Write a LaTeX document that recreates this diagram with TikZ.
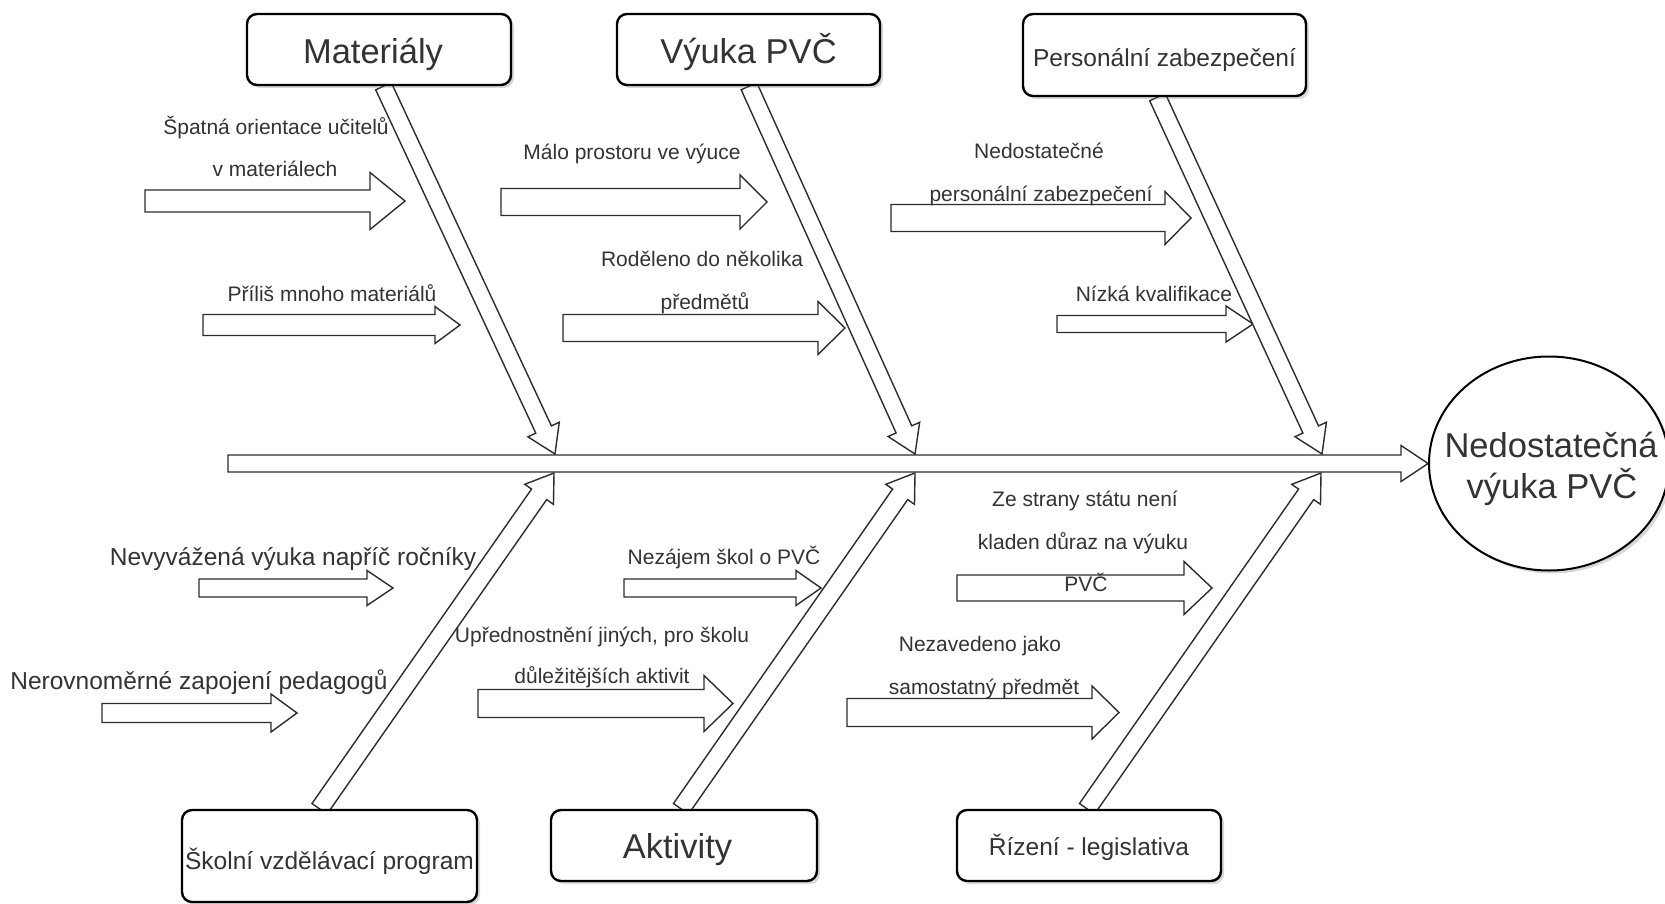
\documentclass[tikz,border=0pt]{standalone}
\usepackage{fontspec}
\setmainfont{Liberation Sans}
\usetikzlibrary{calc,shapes.geometric,shadows,backgrounds}
\definecolor{txt}{RGB}{51,51,51}
\definecolor{ln}{RGB}{45,45,45}
% block arrow from #1 (start) to #2 (tip); #3 shaft half-width, #4 head half-width, #5 head length
\newcommand\blockarrow[5]{%
  \coordinate (bac) at ($(#2)!#5!(#1)$);
  \draw[blk] ($(#1)!#3!90:(#2)$) -- ($(bac)!#3!-90:(#1)$) -- ($(bac)!#4!-90:(#1)$) -- (#2)
     -- ($(bac)!#4!90:(#1)$) -- ($(bac)!#3!90:(#1)$) -- ($(#1)!#3!-90:(#2)$) -- cycle;
}
% small horizontal cause arrow: name, x0, y, tip x, shaft half, head half, head length
\newcommand\causearrow[7]{%
  \coordinate (#1s) at (#2,#3);
  \coordinate (#1t) at (#4,#3);
  \blockarrow{#1s}{#1t}{#5pt}{#6pt}{#7pt}
}
% text lowered so that its baseline lies #1 below the node centre
\newcommand\lowtext[2]{\raisebox{-#1}[0pt][0pt]{#2}}
\begin{document}
\begin{tikzpicture}[x=1pt,y=-1pt,
  blk/.style={draw=ln, line width=1.4pt, fill=white, line join=miter},
  box/.style={draw=black, line width=2.4pt, rounded corners=10pt, fill=white, inner sep=0pt,
    text=txt, drop shadow={shadow xshift=3pt,shadow yshift=-3pt,opacity=0.3}},
  bigfont/.style={font=\fontsize{34.5}{40}\selectfont},
  midfont/.style={font=\fontsize{24.5}{29}\selectfont},
  lbl/.style={text=txt, inner sep=0pt, anchor=base, font=\fontsize{21}{25}\selectfont},
  mlbl/.style={text=txt, inner sep=0pt, anchor=base, font=\fontsize{24.5}{29}\selectfont},
  elab/.style={text=txt, inner sep=0pt, anchor=base, font=\fontsize{34.5}{40}\selectfont}]
\useasboundingbox (0,0) rectangle (1665,904);

% category boxes
\node[box, bigfont, minimum width=264pt, minimum height=71pt] (mat) at (379,49.5) {\lowtext{14.5pt}{\kern-12pt Materiály}};
\node[box, bigfont, minimum width=263pt, minimum height=71pt] (vyu) at (748.5,49.5) {\lowtext{14pt}{Výuka PVČ}};
\node[box, midfont, minimum width=283pt, minimum height=82pt] (per) at (1164.5,55) {\lowtext{12pt}{Personální zabezpečení}};
\node[box, midfont, minimum width=295pt, minimum height=92pt] (svp) at (329.5,856) {\lowtext{13.5pt}{Školní vzdělávací program}};
\node[box, bigfont, minimum width=266pt, minimum height=71pt] (akt) at (684,845.5) {\lowtext{13pt}{\kern-13pt Aktivity}};
\node[box, midfont, minimum width=264pt, minimum height=71pt] (riz) at (1089,845.5) {\lowtext{9.5pt}{Řízení - legislativa}};

% effect ellipse
\node[ellipse, draw=black, line width=2pt, fill=white, minimum width=240pt, minimum height=214pt,
  inner sep=0pt, drop shadow={shadow xshift=3pt,shadow yshift=-3pt,opacity=0.3}] (eff) at (1549,463.5) {};
\node[elab] (e1) at (1551,457) {Nedostatečná};
\node[elab] (e2) at (1552,498) {výuka PVČ};

\begin{scope}[on background layer]
\fill[white] (0,0) rectangle (1665,904);

% small cause arrows
\causearrow{a1}{145}{201}{405}{11}{28.5}{35}
\causearrow{a2}{203}{325}{460}{10.5}{18.5}{25}
\causearrow{a3}{501}{202}{767}{13.5}{27}{27}
\causearrow{a4}{563}{328}{845}{13.5}{26.5}{27}
\causearrow{a5}{891}{218}{1191}{13.5}{26.5}{26}
\causearrow{a6}{1057}{324}{1253}{8.5}{18}{27}
\causearrow{a7}{199}{588}{393}{9}{17.5}{26}
\causearrow{a8}{102}{713}{297}{9.5}{19}{26}
\causearrow{a9}{624}{588}{821}{9}{17.5}{25}
\causearrow{a10}{478}{703.5}{733}{14}{28}{29}
\causearrow{a11}{957}{588}{1212}{13}{26.5}{28}
\causearrow{a12}{847}{712.5}{1119}{14}{26.5}{27}

% bones
\coordinate (b1s) at ($(mat.south)+(4.5,0)$);
\coordinate (b1t) at (555,454);
\coordinate (b2s) at ($(vyu.south)+(0.5,0)$);
\coordinate (b2t) at (915,454);
\coordinate (b3s) at ($(per.south)+(-7,0)$);
\coordinate (b3t) at (1322,454);
\coordinate (b4s) at ($(svp.north)+(-10,0)$);
\coordinate (b4t) at (554,473);
\coordinate (b5s) at ($(akt.north)+(-3,0)$);
\coordinate (b5t) at (915,473);
\coordinate (b6s) at ($(riz.north)+(-2,0)$);
\coordinate (b6t) at (1321,473);
\blockarrow{b1s}{b1t}{8.6pt}{17.3pt}{27pt}
\blockarrow{b2s}{b2t}{8.6pt}{17.3pt}{27pt}
\blockarrow{b3s}{b3t}{8.6pt}{17.3pt}{27pt}
\blockarrow{b4s}{b4t}{9.2pt}{17.5pt}{26pt}
\blockarrow{b5s}{b5t}{9.2pt}{17.5pt}{26pt}
\blockarrow{b6s}{b6t}{9.2pt}{17.5pt}{26pt}

% spine
\coordinate (sp0) at (228,463.5);
\blockarrow{sp0}{eff.west}{8.5pt}{18pt}{27pt}
\end{scope}

% cause labels
\node[lbl] (t1a) at (276,135) {Špatná orientace učitelů};
\node[lbl] (t1b) at (275,177) {v materiálech};
\node[lbl] (t2) at (332,301) {Příliš mnoho materiálů};
\node[lbl] (t3) at (632,160) {Málo prostoru ve výuce};
\node[lbl] (t4a) at (702,266) {Roděleno do několika};
\node[lbl] (t4b) at (705,309) {předmětů};
\node[lbl] (t5a) at (1039,159) {Nedostatečné};
\node[lbl] (t5b) at (1041,202) {personální zabezpečení};
\node[lbl] (t6) at (1154,301) {Nízká kvalifikace};
\node[mlbl] (t7) at (293,565) {Nevyvážená výuka napříč ročníky};
\node[mlbl] (t8) at (199,689) {Nerovnoměrné zapojení pedagogů};
\node[lbl] (t9) at (724,564) {Nezájem škol o PVČ};
\node[lbl] (t10a) at (602,642) {Upřednostnění jiných, pro školu};
\node[lbl] (t10b) at (602,683) {důležitějších aktivit};
\node[lbl] (t11a) at (1085,506) {Ze strany státu není};
\node[lbl] (t11b) at (1083,549) {kladen důraz na výuku};
\node[lbl] (t11c) at (1086,591) {PVČ};
\node[lbl] (t12a) at (980,651) {Nezavedeno jako};
\node[lbl] (t12b) at (984,694) {samostatný předmět};
\end{tikzpicture}
\end{document}
